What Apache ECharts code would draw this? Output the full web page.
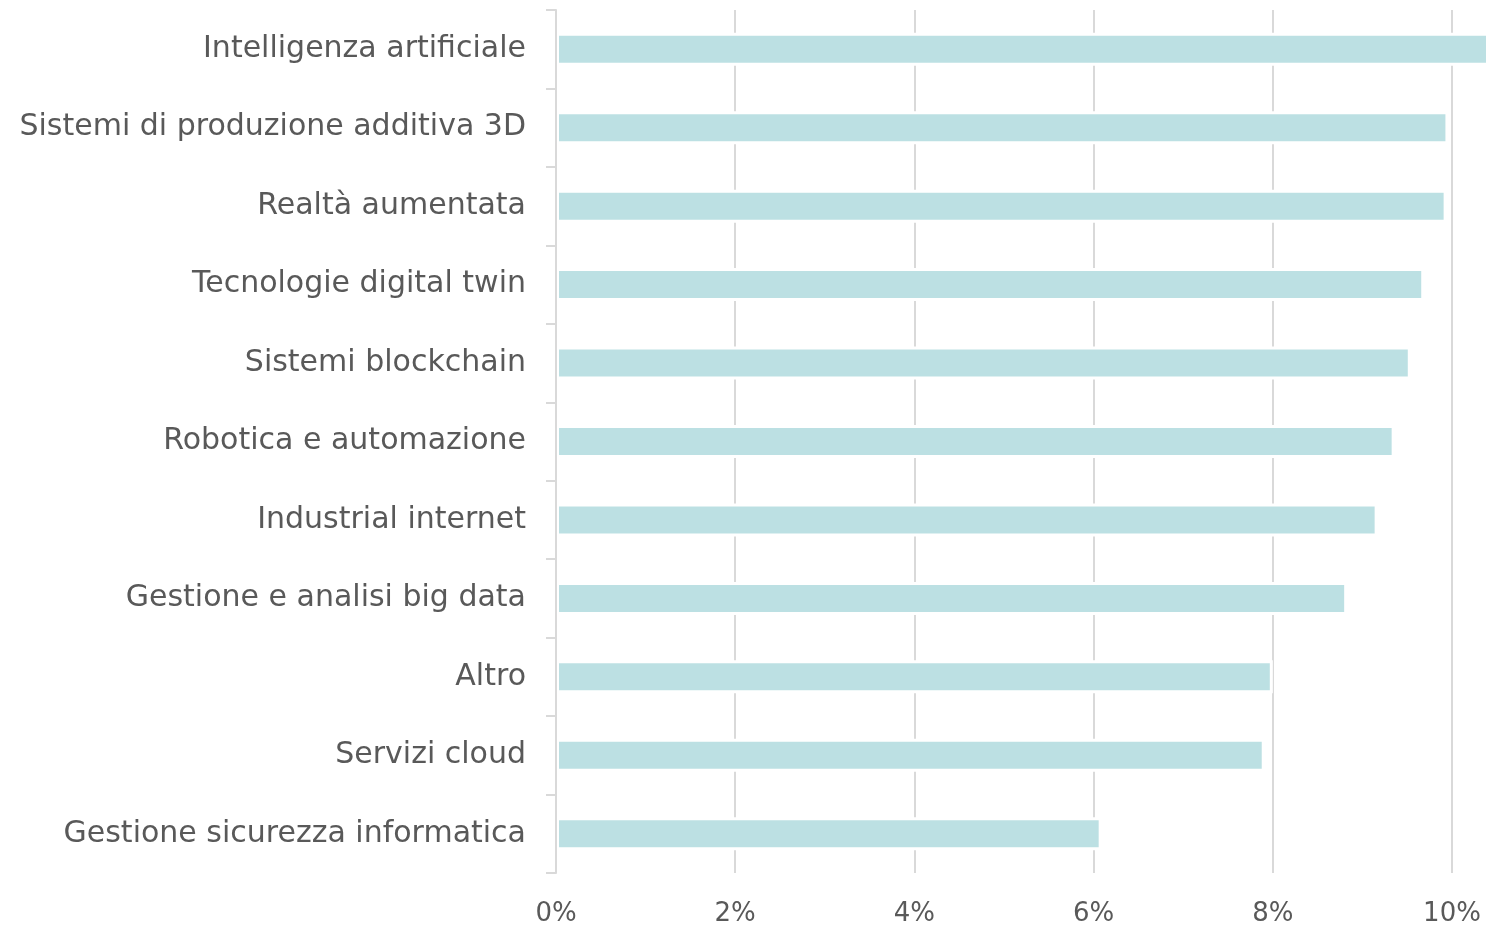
<!DOCTYPE html>
<html>
<head>
<meta charset="utf-8">
<title>Tecnologie</title>
<script src="https://cdn.jsdelivr.net/npm/echarts@6/dist/echarts.min.js"></script>
<style>
  html, body { margin: 0; padding: 0; background: #fff; }
  #chart { width: 1486px; height: 932px; }
</style>
</head>
<body>
<div id="chart"></div>
<script>
const categories = [
  'Intelligenza artificiale',
  'Sistemi di produzione additiva 3D',
  'Realtà aumentata',
  'Tecnologie digital twin',
  'Sistemi blockchain',
  'Robotica e automazione',
  'Industrial internet',
  'Gestione e analisi big data',
  'Altro',
  'Servizi cloud',
  'Gestione sicurezza informatica'
]
const values = [10.45, 9.96, 9.94, 9.69, 9.54, 9.36, 9.17, 8.83, 8.0, 7.91, 6.09]
const xTicks = [0, 2, 4, 6, 8, 10]

const textColor = '#595959'
const lineColor = '#d9d9d9'
const fontFamily = 'DejaVu Sans'

const chart = echarts.init(document.getElementById('chart'))
chart.setOption({
  animation: false,
  grid: { left: 556, right: 34, top: 10, bottom: 59 },
  xAxis: {
    type: 'value',
    min: xTicks[0],
    max: xTicks[xTicks.length - 1],
    interval: 2,
    axisLine: { show: false },
    axisTick: { show: false },
    axisLabel: {
      color: textColor, fontSize: 26, fontFamily: fontFamily, margin: 28,
      formatter: v => v + '%'
    },
    splitLine: { lineStyle: { color: lineColor, width: 2 } }
  },
  yAxis: {
    type: 'category',
    inverse: true,
    data: categories,
    z: 10,
    axisLine: { show: true, lineStyle: { color: lineColor, width: 2 } },
    axisTick: { show: true, length: 10, lineStyle: { color: lineColor, width: 2 } },
    axisLabel: { color: textColor, fontSize: 30, fontFamily: fontFamily, margin: 30 }
  },
  series: [{
    type: 'bar',
    data: values,
    clip: false,
    barWidth: 33,
    itemStyle: { color: '#bce0e3', borderColor: '#fff', borderWidth: 3 }
  }]
})
</script>
</body>
</html>
